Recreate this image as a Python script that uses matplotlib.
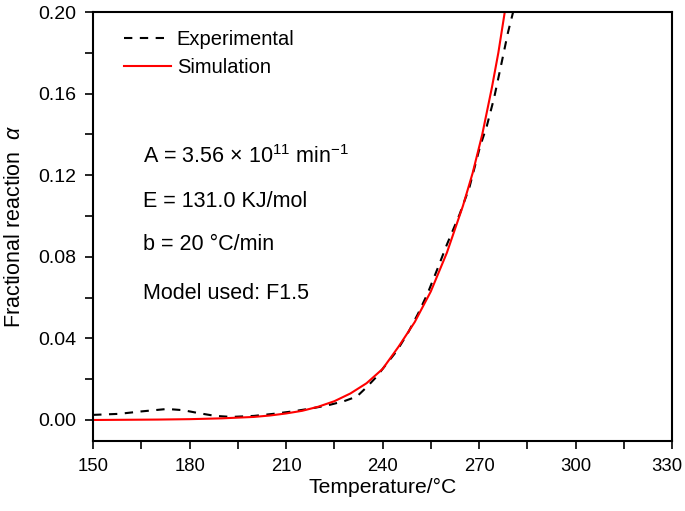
import matplotlib
matplotlib.use("Agg")
import matplotlib.pyplot as plt
import matplotlib.transforms as mtransforms
from matplotlib.ticker import MultipleLocator

# data
exp_T = [150, 158, 165, 173, 178, 183, 188, 193, 200, 206, 212, 218, 223, 228,
         232, 235, 238, 241, 244.5, 248, 251, 254, 257.3, 260, 264, 267, 270.3,
         272.4, 274.7, 277, 279, 280.6, 281.5]
exp_a = [0.0025, 0.003, 0.0042, 0.0054, 0.0048, 0.0033, 0.002, 0.0015, 0.002,
         0.003, 0.0042, 0.0057, 0.0072, 0.0092, 0.0115, 0.016, 0.021, 0.027,
         0.034, 0.043, 0.052, 0.062, 0.075, 0.086, 0.101, 0.114, 0.134, 0.144,
         0.158, 0.175, 0.19, 0.2, 0.207]

sim_T = [150, 160, 170, 180, 190, 200, 205, 210, 215, 220, 225, 230, 235, 240,
         245, 250, 255, 260, 265, 268, 271, 274, 276, 278, 279]
sim_a = [0.0, 0.0001, 0.0002, 0.0004, 0.0008, 0.0015, 0.0022, 0.0032, 0.0045,
         0.0065, 0.0092, 0.013, 0.018, 0.025, 0.036, 0.048, 0.063, 0.082, 0.105,
         0.121, 0.14, 0.163, 0.18, 0.2, 0.209]

notes = ["A = 3.56 $\\times$ 10$^{11}$ min$^{\u22121}$",
         "E = 131.0 KJ/mol",
         "b = 20 \u00b0C/min",
         "Model used: F1.5"]

plt.rcParams['font.family'] = ['Liberation Sans', 'DejaVu Sans']
plt.rcParams['mathtext.fontset'] = 'custom'
plt.rcParams['mathtext.rm'] = 'Liberation Sans'
plt.rcParams['mathtext.it'] = 'Liberation Sans:italic'


def main():
    fig = plt.figure(figsize=(6.85, 5.11), dpi=100)
    ax = fig.add_axes([0.136, 0.137, 0.845, 0.8395])

    ax.plot(exp_T, exp_a, color="black", linestyle=(0, (4, 3.6)), linewidth=1.5,
            label="Experimental")
    ax.plot(sim_T, sim_a, color="red", linewidth=1.5, label="Simulation")

    ax.set_xlim(150, 330)
    ax.set_ylim(-0.0103, 0.2)
    ax.xaxis.set_major_locator(MultipleLocator(30))
    ax.xaxis.set_minor_locator(MultipleLocator(15))
    ax.yaxis.set_major_locator(MultipleLocator(0.04))
    ax.yaxis.set_minor_locator(MultipleLocator(0.02))
    ax.yaxis.set_major_formatter(plt.FuncFormatter(lambda v, p: f"{v:.2f}"))
    ax.tick_params(which="major", direction="out", length=6, width=1.2, pad=6)
    ax.tick_params(which="minor", direction="out", length=6, width=1.2)
    ax.tick_params(axis="y", labelsize=14)
    ax.tick_params(axis="x", labelsize=13.3)
    for s in ax.spines.values():
        s.set_linewidth(1.5)

    ax.set_xlabel("Temperature/\u00b0C", fontsize=15.2)
    ax.set_ylabel("Fractional reaction  $\\alpha$", fontsize=15.5)
    ax.yaxis.set_label_coords(-0.118, 0.5)
    ax.xaxis.set_label_coords(0.5, -0.085)

    ax.legend(loc="upper left", frameon=False, fontsize=14.5, handlelength=2.3,
              handletextpad=0.3, borderaxespad=0.0, bbox_to_anchor=(0.04, 0.976),
              labelspacing=0.45)

    ys = [0.129, 0.107, 0.086, 0.062]
    for txt, y in zip(notes, ys):
        ax.text(165.5, y, txt, fontsize=15.5, va="center")

    # keep the 330 label inside the figure, as in the reference
    fig.canvas.draw()
    shift = mtransforms.ScaledTranslation(-4 / 72, 0, fig.dpi_scale_trans)
    for lab in ax.get_xticklabels():
        if lab.get_text() == "330":
            lab.set_transform(lab.get_transform() + shift)

    fig.savefig("out.png", dpi=100)


if __name__ == "__main__":
    main()
